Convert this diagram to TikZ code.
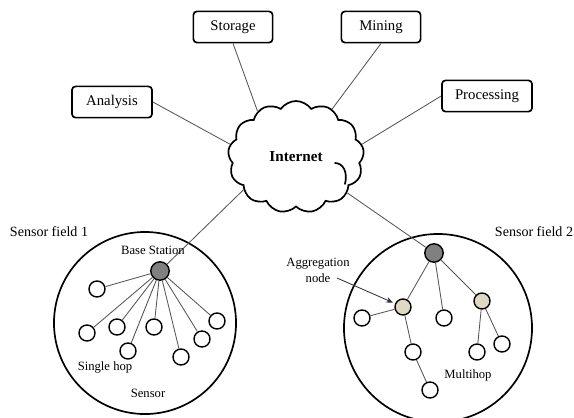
\documentclass[tikz,border=0pt]{standalone}
\usepackage{amsmath}
\usepackage{tikz}
\usepackage{xcolor}
\usepackage{fontspec}
\setmainfont{Liberation Serif}
\usetikzlibrary{shapes.symbols,arrows.meta}

\begin{document}
\begin{tikzpicture}[x=0.025cm, y=-0.025cm,
	taskbox/.style={draw, line width=1.2pt, rounded corners=2.5pt, minimum height=0.78cm, inner sep=2pt, font=\fontsize{10.5}{12}\selectfont},
	link/.style={draw=LINK_GRAY, line width=0.6pt},
	hook/.style={line width=1.2pt, line cap=round},
	fieldring/.style={circle, draw, line width=1.2pt, inner sep=0pt},
	sensor/.style={circle, draw, line width=1pt, minimum size=0.4cm, inner sep=0pt, fill=white},
	basestation/.style={sensor, minimum size=0.46cm, fill=BASE_GRAY},
	aggregator/.style={sensor, fill=AGG_BEIGE},
	fieldtext/.style={font=\fontsize{10}{12}\selectfont, inner sep=0pt},
	smalltext/.style={font=\fontsize{9}{11.4}\selectfont, inner sep=0pt}]
				\definecolor{BASE_GRAY}{RGB}{128, 128, 128}
				\definecolor{AGG_BEIGE}{RGB}{221, 217, 195}
				\definecolor{LINK_GRAY}{RGB}{85, 85, 85}
				\clip (0,0) rectangle (574,417);

				\begin{scope}
					\node[taskbox, minimum width=1.98cm] (storage) at (233,27) {Storage};
					\node[taskbox, minimum width=1.98cm] (mining) at (381,27) {Mining};
					\node[taskbox, minimum width=2.0cm] (analysis) at (112,102) {Analysis};
					\node[taskbox, minimum width=2.25cm] (processing) at (487,96) {Processing};
					\node[cloud, draw, line width=1.2pt, cloud puffs=13, cloud puff arc=110, aspect=1.2,
						minimum width=3.4cm, minimum height=2.8cm, inner sep=0pt,
						font=\fontsize{10.8}{12}\selectfont\bfseries] (internet) at (296,157) {Internet};
					\draw[hook] (335,163) .. controls (343,163) and (348,172) .. (345,184);
					\draw[link] (storage.south) -- (internet.130);
					\draw[link] (mining.south) -- (internet.53);
					\draw[link] (analysis.east) -- (internet.169);
					\draw[link] (processing.west) -- (internet.11);
				\end{scope}

				\begin{scope}
					\node[fieldring, minimum size=4.55cm] (fielda) at (145,323) {};
					\node[fieldtext] (fieldlabela) at (49,232) {Sensor field 1};
					\node[basestation] (bsa) at (160,271) {};
					\node[sensor] (sa1) at (97,289) {};
					\node[sensor] (sa2) at (87,333) {};
					\node[sensor] (sa3) at (117,327) {};
					\node[sensor] (sa4) at (128,351) {};
					\node[sensor] (sa5) at (154,327) {};
					\node[sensor] (sa6) at (181,357) {};
					\node[sensor] (sa7) at (202,339) {};
					\node[sensor] (sa8) at (217,321) {};
					\draw[link] (internet.212) -- (bsa);
					\draw[link] (bsa) -- (sa1);
					\draw[link] (bsa) -- (sa2);
					\draw[link] (bsa) -- (sa3);
					\draw[link] (bsa) -- (sa4);
					\draw[link] (bsa) -- (sa5);
					\draw[link] (bsa) -- (sa6);
					\draw[link] (bsa) -- (sa7);
					\draw[link] (bsa) -- (sa8);
					\node[smalltext] (bslabel) at (153,250) {Base Station};
					\node[smalltext] (singlehop) at (105,367) {Single hop};
					\node[smalltext] (sensorlabel) at (148,393) {Sensor};
				\end{scope}

				\begin{scope}
					\node[fieldring, minimum size=4.7cm] (fieldb) at (438,328) {};
					\node[fieldtext] (fieldlabelb) at (534,232) {Sensor field 2};
					\node[basestation] (bsb) at (434,253) {};
					\node[aggregator] (ga1) at (403,307) {};
					\node[aggregator] (ga2) at (482,301) {};
					\node[sensor] (sb1) at (362,318) {};
					\node[sensor] (sb2) at (444,318) {};
					\node[sensor] (sb3) at (413,352) {};
					\node[sensor] (sb4) at (430,390) {};
					\node[sensor] (sb5) at (477,352) {};
					\node[sensor] (sb6) at (502,344) {};
					\draw[link] (internet.325) -- (bsb);
					\draw[link] (bsb) -- (ga1);
					\draw[link] (bsb) -- (sb2);
					\draw[link] (bsb) -- (ga2);
					\draw[link] (ga1) -- (sb1);
					\draw[link] (ga1) -- (sb3);
					\draw[link] (sb3) -- (sb4);
					\draw[link] (ga2) -- (sb5);
					\draw[link] (ga2) -- (sb6);
					\node[smalltext, align=center] (agglabel) at (318,270) {Aggregation\\node};
					\node[smalltext] (multihop) at (468,375) {Multihop};
					\coordinate (aggtail) at (337,278);
					\draw[link, draw=black!80, -{Stealth[length=5pt, width=4pt]}, shorten >=1.5pt] (aggtail) -- (ga1);
				\end{scope}

			\end{tikzpicture}
\end{document}
